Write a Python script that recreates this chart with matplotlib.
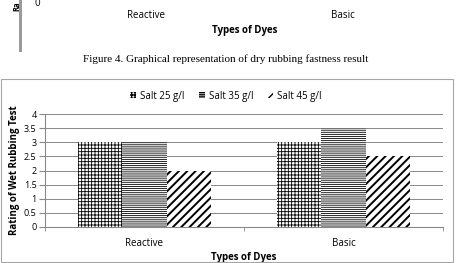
import numpy as np
import matplotlib.pyplot as plt
from matplotlib.patches import Rectangle

# data
dyes = ["Reactive", "Basic"]
series = ["Salt 25 g/l", "Salt 35 g/l", "Salt 45 g/l"]
salt25 = [3, 3]
salt35 = [3, 3.5]
salt45 = [2, 2.5]
yticks = [0, 0.5, 1, 1.5, 2, 2.5, 3, 3.5, 4]

W, H = 457, 263
font = ["Open Sans", "DejaVu Sans"]
plt.rcParams['font.family'] = font

fig = plt.figure(figsize=(W / 100, H / 100), dpi=100)


def fx(px):
    return px / W


def fy(py):
    return 1 - py / H


# -----------------------------
# tail of the previous figure
# -----------------------------
fig.patches.append(Rectangle((fx(19), fy(52)), fx(3), 52 / H, transform=fig.transFigure,
                             facecolor="#9a9a9a", edgecolor="none"))
fig.text(fx(17), fy(11), "Ra", rotation=90, ha="center", va="bottom",
         fontsize=5.5, fontweight="bold")
fig.text(fx(37), fy(4), "0", ha="center", va="center", fontsize=7)
fig.text(fx(146), fy(15), "Reactive", ha="center", va="center", fontsize=7)
fig.text(fx(343), fy(15), "Basic", ha="center", va="center", fontsize=7)
fig.text(fx(245), fy(31), "Types of Dyes", ha="center", va="center", fontsize=7, fontweight="bold")
fig.text(fx(226), fy(59), "Figure 4. Graphical representation of dry rubbing fastness result",
         ha="center", va="center", fontsize=8, family="Liberation Serif")

# chart border
fig.patches.append(Rectangle((fx(1), fy(262)), fx(452), 183 / H, transform=fig.transFigure,
                             facecolor="none", edgecolor="#a6a6a6", linewidth=0.8))

# -----------------------------
# bar chart
# -----------------------------
ax = fig.add_axes([fx(45), fy(227), fx(398), 113 / H])
x = np.arange(len(dyes))
bw = 0.223
hatches = ["+" * 5, "-" * 8, "////"]
lws = [0.6, 0.6, 1.4]
for i, (vals, lab) in enumerate(zip([salt25, salt35, salt45], series)):
    with plt.rc_context({"hatch.linewidth": lws[i], "hatch.color": "black"}):
        ax.bar(x + (i - 1) * bw, vals, bw, facecolor="white", edgecolor="black",
               linewidth=0, hatch=hatches[i], label=lab, zorder=3)

ax.set_xlim(-0.5, 1.5)
ax.set_ylim(0, 4)
ax.set_yticks(yticks)
ax.set_yticklabels([f"{t:g}" for t in yticks], fontsize=6.5)
ax.set_xticks(x)
ax.set_xticklabels(dyes, fontsize=7)
ax.tick_params(axis="x", length=0, pad=8)
ax.set_xticks([-0.5, 0.5, 1.5], minor=True)
ax.tick_params(axis="x", which="minor", length=3, color="#888888")
ax.tick_params(axis="y", length=4, color="#888888", pad=2)
ax.yaxis.grid(True, color="#888888", linewidth=0.7, zorder=0)
for s in ["top", "right"]:
    ax.spines[s].set_visible(False)
ax.spines["left"].set_color("#888888")
ax.spines["bottom"].set_color("#888888")
ax.set_xlabel("Types of Dyes", fontsize=7, fontweight="bold", labelpad=2)
ax.set_ylabel("Rating of Wet Rubbing Test", fontsize=7, fontweight="bold")
ax.yaxis.set_label_coords(-0.063, 0.5)

leg = ax.legend(loc="center", bbox_to_anchor=(fx(226), fy(96)), bbox_transform=fig.transFigure,
                ncol=3, frameon=False, fontsize=7, handlelength=0.6, handleheight=0.6,
                handletextpad=0.4, columnspacing=1.5)

fig.savefig("out.png", dpi=100)
